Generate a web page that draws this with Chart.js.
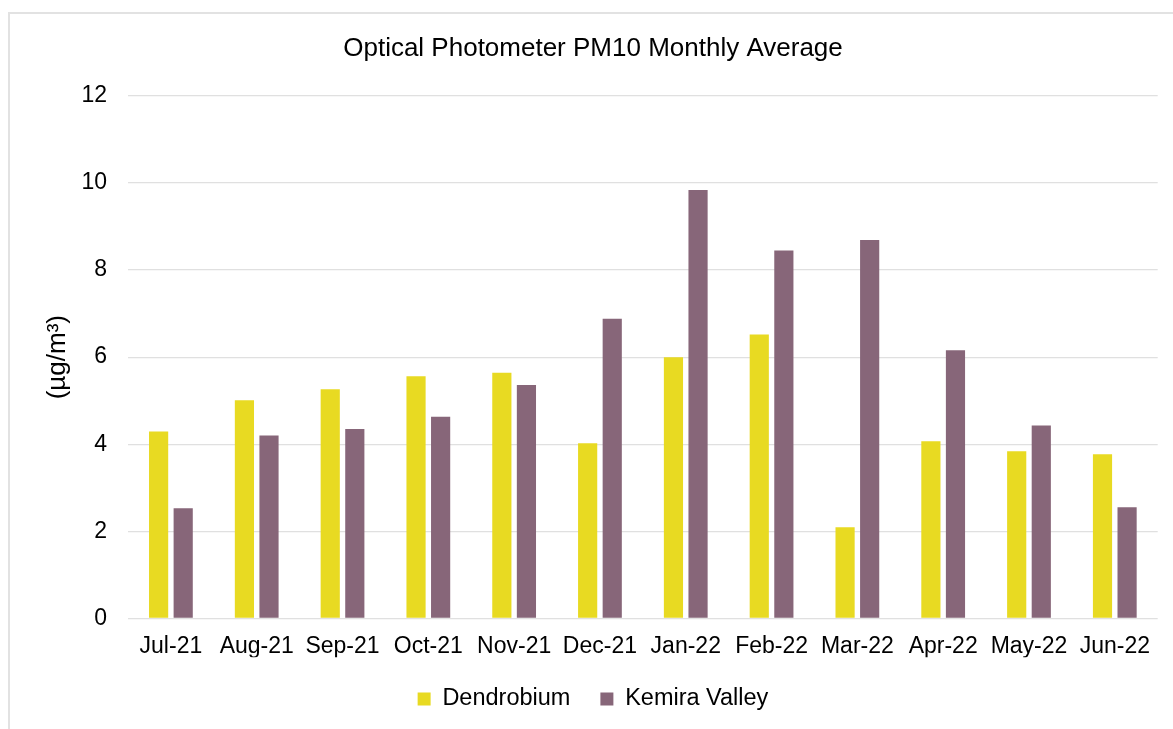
<!DOCTYPE html>
<html><head><meta charset="utf-8">
<script src="https://cdn.jsdelivr.net/npm/chart.js@4"></script>
<style>
html,body{margin:0;padding:0;background:#fff;overflow:hidden;width:1173px;height:729px;}
#frame{position:absolute;left:8px;top:12px;width:1166px;height:716px;border:2px solid #e2e2e2;background:#fff;}
canvas{display:block;}
</style></head><body>
<div id="frame"><canvas id="c" width="1166" height="716"></canvas></div>
<script>
const categories = ['Jul-21','Aug-21','Sep-21','Oct-21','Nov-21','Dec-21','Jan-22','Feb-22','Mar-22','Apr-22','May-22','Jun-22'];
const dendrobium = [4.29, 5.01, 5.26, 5.56, 5.64, 4.02, 6.00, 6.52, 2.09, 4.07, 3.84, 3.77];
const kemiraValley = [2.53, 4.20, 4.35, 4.63, 5.36, 6.88, 9.84, 8.45, 8.69, 6.16, 4.43, 2.55];
const yTicks = [0, 2, 4, 6, 8, 10, 12];
const seriesNames = ['Dendrobium', 'Kemira Valley'];
const chartTitle = 'Optical Photometer PM10 Monthly Average';
const yTitle = '(µg/m³)';

const FONT = '"Liberation Sans", Arial, sans-serif';
Chart.defaults.font.family = FONT;
Chart.defaults.color = '#000';

new Chart(document.getElementById('c'), {
  type: 'bar',
  data: {
    labels: categories,
    datasets: [
      { label: seriesNames[0], data: dendrobium, backgroundColor: '#E8DA22', borderWidth: 0,
        categoryPercentage: 0.573, barPercentage: 0.78 },
      { label: seriesNames[1], data: kemiraValley, backgroundColor: '#876679', borderWidth: 0,
        categoryPercentage: 0.573, barPercentage: 0.78 }
    ]
  },
  options: {
    responsive: false,
    devicePixelRatio: 1,
    animation: false,
    layout: { padding: { left: 0, right: 0, top: 0, bottom: 9.25 } },
    plugins: {
      title: {
        display: true, text: chartTitle,
        font: { size: 26, weight: 'normal', family: FONT },
        color: '#000',
        padding: { top: 19, bottom: 31.8 }
      },
      legend: {
        position: 'bottom',
        labels: {
          font: { size: 23.5, family: FONT },
          color: '#000',
          boxWidth: 13, boxHeight: 13,
          padding: 30
        }
      },
      tooltip: { enabled: false }
    },
    scales: {
      x: {
        grid: { display: false, drawTicks: false },
        border: { display: false },
        ticks: { font: { size: 23, family: FONT }, color: '#000', padding: 14.6, maxRotation: 0, autoSkip: false },
        afterFit: s => { s.height = 38.95; }
      },
      y: {
        min: 0, max: 12,
        afterBuildTicks: s => { s.ticks = yTicks.map(v => ({ value: v })); },
        grid: { color: '#e0e0e0', lineWidth: 1.3, drawTicks: false },
        border: { display: false },
        ticks: { font: { size: 23, family: FONT }, color: '#000', padding: 21 },
        title: { display: true, text: yTitle, font: { size: 26, family: FONT }, color: '#000', padding: { top: 32.4, bottom: 0 } },
        afterFit: s => { s.width = 118; }
      },
      y2: {
        type: 'linear', position: 'right', display: true,
        grid: { display: false, drawTicks: false },
        border: { display: false },
        ticks: { display: false },
        afterFit: s => { s.width = 18.3; }
      }
    }
  }
});
</script>
</body></html>
